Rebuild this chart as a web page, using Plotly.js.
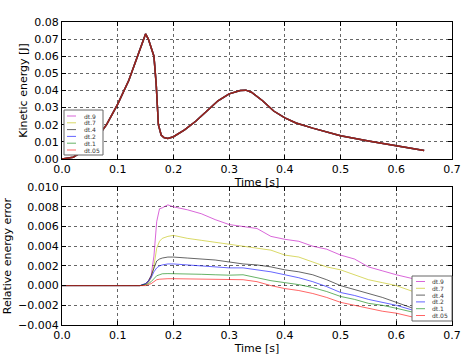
<!DOCTYPE html>
<html>
<head>
<meta charset="utf-8">
<script src="https://cdn.plot.ly/plotly-3.0.1.min.js"></script>
<style>html,body{margin:0;padding:0;background:#fff;}#chart{width:474px;height:355px;}</style>
</head>
<body>
<div id="chart"></div>
<script>
// Series labels and colours
const seriesNames = ['dt.9', 'dt.7', 'dt.4', 'dt.2', 'dt.1', 'dt.05'];
const seriesColors = ['#c000c0', '#c0c000', '#000000', '#0000ff', '#008000', '#ff0000'];

// Kinetic energy (all time steps overlap)
const tKE = [0, 0.02, 0.04, 0.06, 0.08, 0.1, 0.12, 0.13, 0.14, 0.145, 0.15, 0.155, 0.16, 0.165, 0.169, 0.173, 0.178, 0.183, 0.19, 0.2, 0.22, 0.24, 0.26, 0.28, 0.3, 0.32, 0.33, 0.34, 0.36, 0.38, 0.4, 0.42, 0.45, 0.5, 0.55, 0.6, 0.65];
const keValues = [0, 0.001, 0.005, 0.011, 0.02, 0.032, 0.046, 0.055, 0.064, 0.069, 0.073, 0.070, 0.065, 0.060, 0.044, 0.020, 0.014, 0.0125, 0.012, 0.013, 0.017, 0.022, 0.028, 0.034, 0.038, 0.040, 0.0402, 0.039, 0.034, 0.028, 0.024, 0.021, 0.018, 0.0136, 0.0105, 0.0076, 0.005];

// Relative energy error
const tErr = [0, 0.14, 0.15, 0.155, 0.16, 0.165, 0.17, 0.175, 0.18, 0.19, 0.2, 0.225, 0.25, 0.275, 0.3, 0.325, 0.35, 0.375, 0.4, 0.425, 0.45, 0.475, 0.5, 0.525, 0.55, 0.575, 0.6, 0.63];
const errDt9 = [0, 0, 0.0001, 0.0004, 0.001, 0.003, 0.0065, 0.0078, 0.0079, 0.0082, 0.0080, 0.0077, 0.0073, 0.0067, 0.0062, 0.0060, 0.0058, 0.0050, 0.0047, 0.0045, 0.0040, 0.0037, 0.0031, 0.0027, 0.0019, 0.0015, 0.0011, 0.0007];
const errDt7 = [0, 0, 0.0001, 0.0003, 0.0008, 0.002, 0.0038, 0.0045, 0.0048, 0.0050, 0.0051, 0.0048, 0.0046, 0.0044, 0.0042, 0.0040, 0.0038, 0.0036, 0.0031, 0.0029, 0.0024, 0.0019, 0.0016, 0.0011, 0.0006, 0.0003, 0.0000, -0.0006];
const errDt4 = [0, 0, 0.0002, 0.0005, 0.001, 0.0018, 0.0025, 0.0027, 0.0028, 0.0029, 0.0029, 0.0028, 0.0027, 0.0026, 0.0024, 0.0022, 0.0021, 0.0019, 0.0016, 0.0014, 0.0011, 0.0006, 0.0000, -0.0004, -0.0008, -0.0012, -0.0017, -0.0023];
const errDt2 = [0, 0, 0.0002, 0.0004, 0.0008, 0.0014, 0.0018, 0.0020, 0.0021, 0.0022, 0.0022, 0.0021, 0.0020, 0.0019, 0.0018, 0.0018, 0.0016, 0.0014, 0.0011, 0.0008, 0.0004, -0.0001, -0.0007, -0.0010, -0.0014, -0.0017, -0.0020, -0.0025];
const errDt1 = [0, 0, 0.0001, 0.0002, 0.0004, 0.0007, 0.0010, 0.0011, 0.0012, 0.00122, 0.00122, 0.0012, 0.00115, 0.0011, 0.00106, 0.0011, 0.0008, 0.0005, 0.0003, 0.0001, -0.0002, -0.0006, -0.0011, -0.0014, -0.0018, -0.0020, -0.0023, -0.0027];
const errDt05 = [0, 0, 0, 0.0001, 0.0002, 0.0004, 0.0006, 0.00065, 0.00068, 0.0007, 0.0007, 0.00068, 0.00066, 0.00064, 0.0006, 0.0006, 0.0004, 0.0000, -0.0003, -0.0005, -0.0008, -0.0012, -0.0017, -0.0020, -0.0023, -0.0026, -0.0028, -0.0032];

const xTickVals = [0, 0.1, 0.2, 0.3, 0.4, 0.5, 0.6, 0.7];

const errSeries = [errDt9, errDt7, errDt4, errDt2, errDt1, errDt05];
const traces = [];
seriesNames.forEach((name, i) => {
  traces.push({
    x: tKE, y: keValues, name: name, type: 'scatter', mode: 'lines',
    line: {color: seriesColors[i], width: 1.5}, opacity: 0.6,
    xaxis: 'x', yaxis: 'y', showlegend: false
  });
});
seriesNames.forEach((name, i) => {
  traces.push({
    x: tErr, y: errSeries[i], name: name, type: 'scatter', mode: 'lines',
    line: {color: seriesColors[i], width: 1}, opacity: 0.6,
    xaxis: 'x2', yaxis: 'y2', showlegend: false
  });
});

// Compact matplotlib-style legends (paper coords: x 62..452 px, y 325..22 px)
const W = 474, H = 355, L = 62, R = 22, T = 22, B = 30;
const px = v => (v - L) / (W - L - R);
const py = v => (H - B - v) / (H - T - B);
const shapes = [];
const annotations = [];
function addLegend(box, firstRowY, rowH, lineX0, lineX1, textX) {
  shapes.push({type: 'rect', xref: 'paper', yref: 'paper',
    x0: px(box[0]), x1: px(box[1]), y0: py(box[3]), y1: py(box[2]),
    line: {color: '#666', width: 1}, fillcolor: '#fff', layer: 'above'});
  seriesNames.forEach((name, i) => {
    const yy = firstRowY + i * rowH;
    shapes.push({type: 'line', xref: 'paper', yref: 'paper',
      x0: px(lineX0), x1: px(lineX1), y0: py(yy), y1: py(yy),
      line: {color: seriesColors[i], width: 1}, opacity: 0.6, layer: 'above'});
    annotations.push({xref: 'paper', yref: 'paper', x: px(textX), y: py(yy),
      xanchor: 'left', yanchor: 'middle', showarrow: false, text: name,
      font: {family: 'DejaVu Sans', size: 6, color: '#333'}});
  });
}
addLegend([64, 103, 110, 155], 116, 6.8, 67, 76, 82);
addLegend([412, 452, 276, 321], 281.5, 6.8, 416, 425, 430);

const font = {family: 'DejaVu Sans', size: 11, color: '#000'};
const axBase = {
  showline: true, linecolor: '#000', linewidth: 1, mirror: 'ticks',
  ticks: 'inside', ticklen: 4, tickcolor: '#000',
  showgrid: true, gridcolor: '#000', griddash: 'dot', gridwidth: 0.6,
  zeroline: false, tickfont: font
};

const layout = {
  width: W, height: H,
  margin: {l: L, r: R, t: T, b: B},
  paper_bgcolor: '#fff', plot_bgcolor: '#fff',
  font: font,
  showlegend: false,
  shapes: shapes,
  annotations: annotations,
  xaxis: Object.assign({}, axBase, {domain: [0, 1], range: [0, 0.7], tickvals: xTickVals, tickformat: '.1f',
    anchor: 'y', title: {text: 'Time [s]', font: font, standoff: 0}}),
  yaxis: Object.assign({}, axBase, {domain: [0.548, 1], range: [0, 0.08], dtick: 0.01, tickformat: '.2f',
    anchor: 'x', title: {text: 'Kinetic energy [J]', font: font, standoff: 4}}),
  xaxis2: Object.assign({}, axBase, {domain: [0, 1], range: [0, 0.7], tickvals: xTickVals, tickformat: '.1f',
    anchor: 'y2', title: {text: 'Time [s]', font: font, standoff: 0}}),
  yaxis2: Object.assign({}, axBase, {domain: [0, 0.455], range: [-0.004, 0.01], dtick: 0.002, tickformat: '.3f',
    anchor: 'x2', title: {text: 'Relative energy error', font: font, standoff: 4}})
};

Plotly.newPlot('chart', traces, layout, {displayModeBar: false, staticPlot: true});
</script>
</body>
</html>
